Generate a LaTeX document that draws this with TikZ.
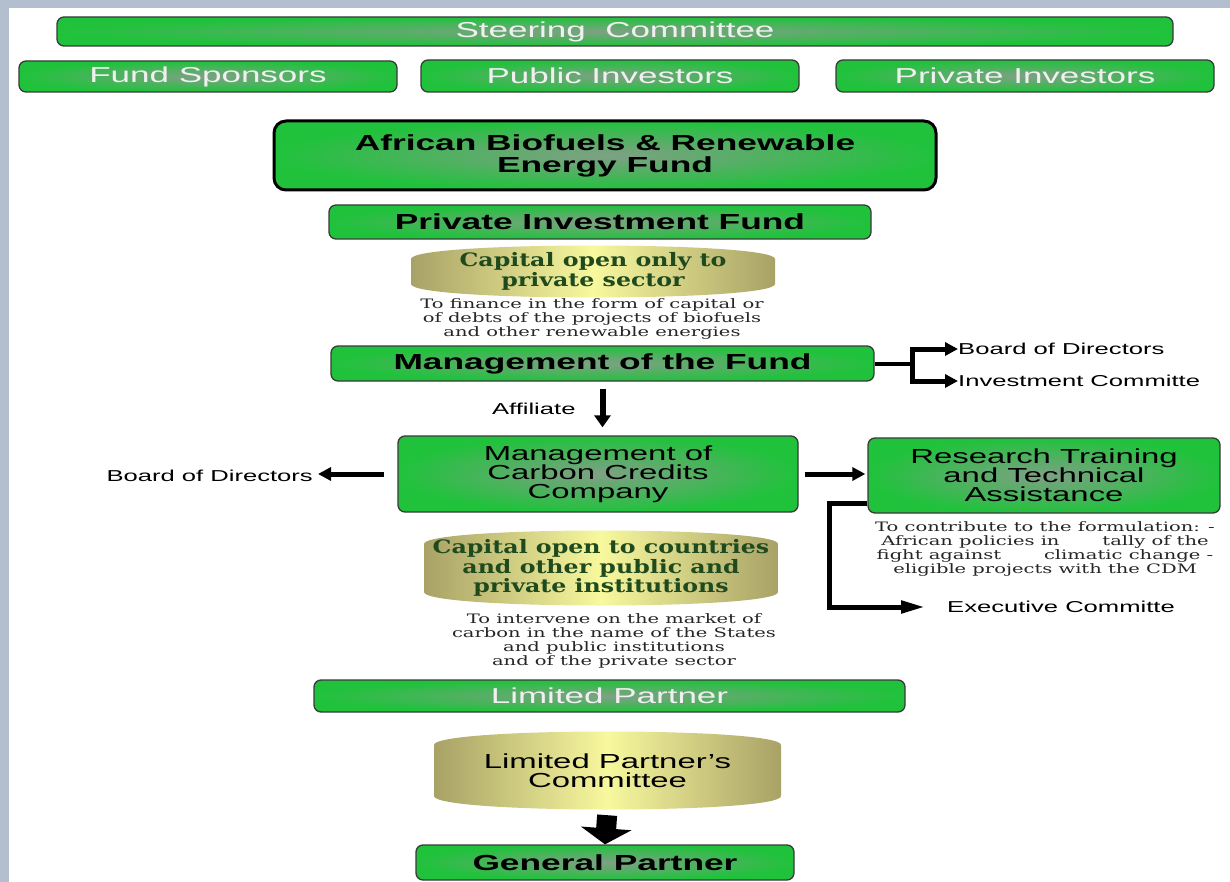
\documentclass[tikz,border=0pt]{standalone}
\usepackage{fontspec}
\setmainfont{DejaVu Serif}
\setsansfont{Liberation Sans}
\usetikzlibrary{arrows.meta}

\definecolor{gedge}{HTML}{20C23C}
\definecolor{gmid}{HTML}{7FA085}
\definecolor{boxedge}{HTML}{3A3A3A}
\definecolor{barrelA}{HTML}{A8A266}
\definecolor{barrelB}{HTML}{F8F89E}
\definecolor{darkgreen}{HTML}{1E4A1E}
\definecolor{bgblue}{HTML}{B3BFCE}

% widened text, as in the slide (lines kept at \baselineskip)
\newcommand{\wtext}[2][1.62]{\scalebox{#1}[1]{\vbox{\lineskiplimit=-100pt\relax\let\\\cr
  \halign{\hfil##\hfil\cr#2\crcr}}}}

\begin{document}
\begin{tikzpicture}[x=1pt,y=-1pt,
  gbox/.style={draw=boxedge, line width=1.3pt, rounded corners=7pt,
    inner color=gmid, outer color=gedge, inner sep=0pt},
  barrel/.style={inner sep=0pt, path picture={
    \shade[left color=barrelA, right color=barrelA, middle color=barrelB]
      ([yshift=-14pt]path picture bounding box.north west)
      .. controls ([yshift=4pt]path picture bounding box.north west)
      and ([yshift=4pt]path picture bounding box.north east)
      .. ([yshift=-14pt]path picture bounding box.north east)
      -- ([yshift=14pt]path picture bounding box.south east)
      .. controls ([yshift=-4pt]path picture bounding box.south east)
      and ([yshift=-4pt]path picture bounding box.south west)
      .. ([yshift=14pt]path picture bounding box.south west) -- cycle;}},
  hdr/.style={font=\sffamily\fontsize{21.6}{23}\selectfont, text=white!94!black},
  boldtxt/.style={font=\sffamily\bfseries\fontsize{21.8}{22}\selectfont, text=black},
  plaintxt/.style={font=\sffamily\fontsize{20.3}{19}\selectfont, text=black},
  sidetxt/.style={font=\sffamily\fontsize{15.8}{17}\selectfont, inner sep=0pt},
  notetxt/.style={font=\fontsize{13}{14}\selectfont, text=black!85, inner sep=0pt},
  cyl/.style={font=\bfseries\fontsize{18.5}{19.5}\selectfont, text=darkgreen},
  arr/.style={line width=4pt, -{Triangle[length=13pt,width=13pt]}},
]
\useasboundingbox (0,0) rectangle (1230,882);
\fill[bgblue] (0,0) rectangle (1230,882);
\fill[white] (9,8) rectangle (1230,882);

% investors
\node[gbox, hdr, minimum width=1116pt, minimum height=29pt] (steer) at (615,31.5) {\wtext{Steering~~Committee}};
\node[gbox, hdr, minimum width=378pt, minimum height=31pt] (sponsors) at (208,76.5) {\wtext{Fund Sponsors}};
\node[gbox, hdr, minimum width=378pt, minimum height=32pt] (pubinv) at (610,76) {\wtext{Public Investors}};
\node[gbox, hdr, minimum width=378pt, minimum height=32pt] (privinv) at (1025,76) {\wtext{Private Investors}};

% fund
\node[gbox, boldtxt, draw=black, line width=3pt, rounded corners=12pt, minimum width=662pt, minimum height=69pt] (abref) at (605,155.5) {\wtext{African Biofuels \& Renewable\\Energy Fund}};
\node[gbox, boldtxt, minimum width=542pt, minimum height=34pt] (pif) at (600,222) {\wtext{Private Investment Fund}};
\node[barrel, cyl, minimum width=364pt, minimum height=53pt] (cap1) at (593,271.5) {\wtext[1.28]{Capital open only to\\private sector}};
\node[notetxt] (fin) at (592,319) {\wtext[1.5]{To finance in the form of capital or\\of debts of the projects of biofuels\\and other renewable energies}};
\node[gbox, boldtxt, minimum width=543pt, minimum height=35pt] (mgmt) at (602.5,363.5) {\wtext{Management of the Fund}};
\node[sidetxt, anchor=west] (bod) at (958,349) {\wtext{Board of Directors}};
\node[sidetxt, anchor=west] (invc) at (958,381) {\wtext{Investment Committe}};

% carbon credits
\node[gbox, plaintxt, minimum width=400pt, minimum height=76pt] (mcc) at (598,474) {\wtext{Management of\\Carbon Credits\\Company}};
\node[sidetxt, anchor=east] (bodl) at (313,476) {\wtext{Board of Directors}};
\node[gbox, plaintxt, minimum width=352pt, minimum height=75pt] (rta) at (1044,475.5) {\wtext{Research Training\\and Technical\\Assistance}};
\node[notetxt] (contrib) at (1045,549) {\wtext[1.5]{To contribute to the formulation: -\\African policies in\hspace{2.2em}tally of the\\fight against\hspace{2.2em}climatic change -\\eligible projects with the CDM}};
\node[sidetxt, anchor=west] (exec) at (947,607) {\wtext{Executive Committe}};
\node[barrel, cyl, minimum width=354pt, minimum height=76pt] (cap2) at (601,568) {\wtext[1.28]{Capital open to countries\\and other public and\\private institutions}};
\node[notetxt] (interv) at (614,641) {\wtext[1.5]{To intervene on the market of\\carbon in the name of the States\\and public institutions\\and of the private sector}};

% partners
\node[gbox, hdr, minimum width=591pt, minimum height=32pt] (lp) at (609.5,696) {\wtext{Limited Partner}};
\node[barrel, plaintxt, minimum width=347pt, minimum height=79pt] (lpc) at (607.5,770.5) {\wtext{Limited Partner's\\Committee}};
\node[gbox, boldtxt, minimum width=378pt, minimum height=35pt] (gp) at (605,862.5) {\wtext{General Partner}};

% arrows
\draw[line width=4pt] (mgmt.east) -- ++(38,0) coordinate (fork);
\draw[arr, line width=5pt] (fork) |- (bod.west);
\draw[arr, line width=5pt] (fork) |- (invc.west);
\draw[line width=6pt, -{Triangle[length=12pt,width=16pt]}, shorten <=7pt, shorten >=8pt] (mgmt.south) -- (mgmt.south |- mcc.north) node[midway, left=24pt, sidetxt] (aff) {\wtext{Affiliate}};
\draw[arr, line width=5pt, shorten <=6pt, shorten >=2pt] (mcc.east) -- (mcc.east -| rta.west);
\draw[arr, line width=5pt, shorten <=13pt, shorten >=5pt] (mcc.west) -- (mcc.west -| bodl.east);
\draw[line width=5pt, -{Triangle[length=24pt,width=12pt]}] ([yshift=10pt]rta.south west) -- ++(-38,0) |- ([xshift=-22pt]exec.west);
\draw[line width=20pt, -{Triangle[length=16pt,width=50pt]}, shorten <=5pt] (lpc.south) -- (gp.north);
\end{tikzpicture}
\end{document}
